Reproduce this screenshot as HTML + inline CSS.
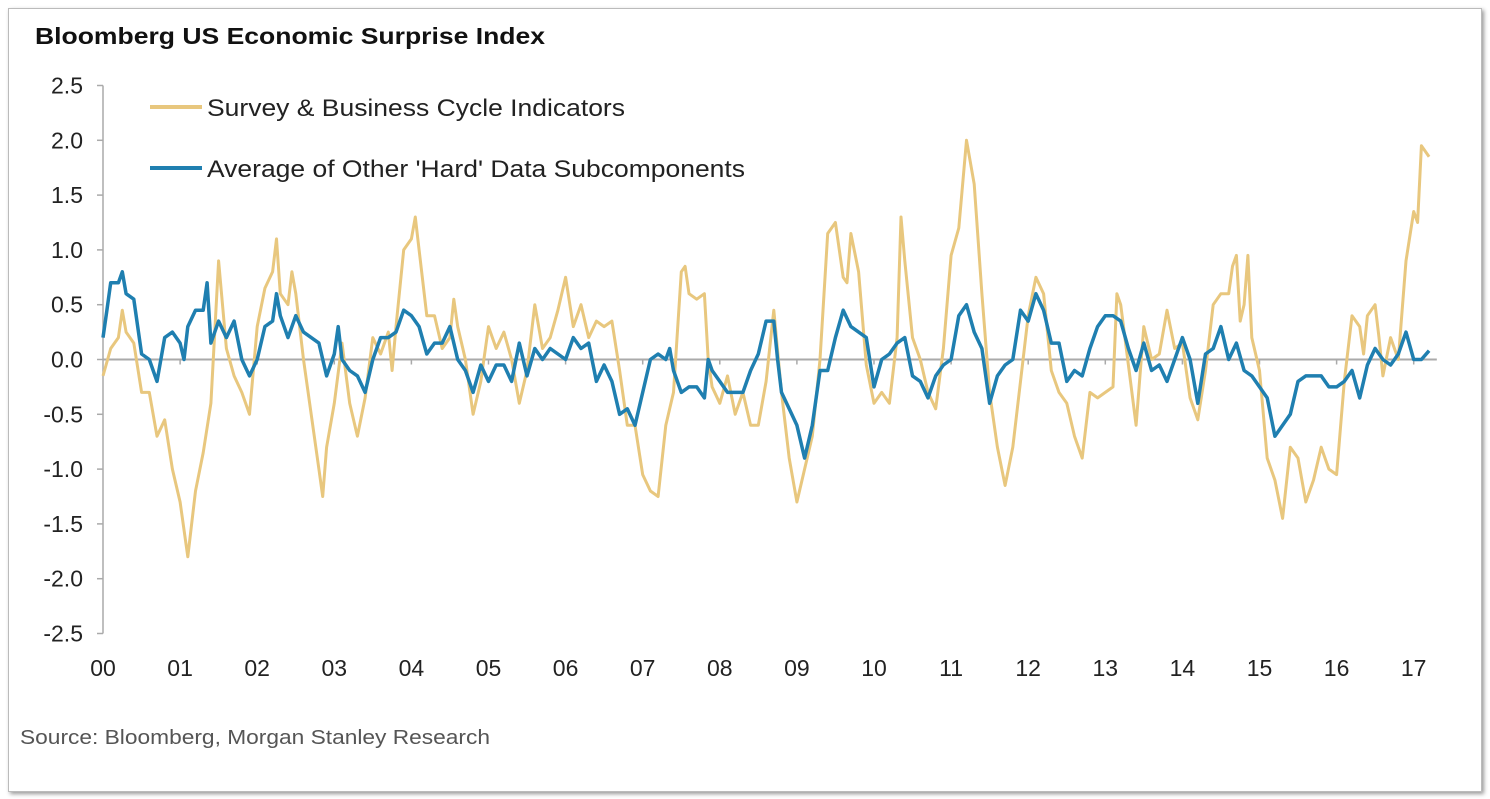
<!DOCTYPE html>
<html><head><meta charset="utf-8"><style>
body{margin:0;background:#fff;width:1490px;height:799px;overflow:hidden;font-family:"Liberation Sans",sans-serif}
#frame{position:absolute;left:8px;top:8px;width:1472px;height:782px;border:1px solid #bbb;box-shadow:2px 2px 4px #999;background:#fff}
</style></head><body>
<div id="frame"></div>
<svg id="chart" width="1490" height="799" style="position:absolute;left:0;top:0">
<text x="35" y="44" font-size="23" font-weight="bold" fill="#111" textLength="510" lengthAdjust="spacingAndGlyphs">Bloomberg US Economic Surprise Index</text>
<text x="20" y="744" font-size="20" fill="#555" textLength="470" lengthAdjust="spacingAndGlyphs">Source: Bloomberg, Morgan Stanley Research</text>
<g id="axes"></g><g id="series"></g>
<g>
<line x1="150" y1="107" x2="202" y2="107" stroke="#e8c77e" stroke-width="4"/>
<text x="207" y="116" font-size="24" fill="#222" textLength="418" lengthAdjust="spacingAndGlyphs">Survey &amp; Business Cycle Indicators</text>
<line x1="150" y1="168" x2="202" y2="168" stroke="#1f7fb0" stroke-width="4"/>
<text x="207" y="177" font-size="24" fill="#222" textLength="538" lengthAdjust="spacingAndGlyphs">Average of Other 'Hard' Data Subcomponents</text>
</g>
</svg>
<script>
const yTicks=[2.5,2.0,1.5,1.0,0.5,0.0,-0.5,-1.0,-1.5,-2.0,-2.5];
const xTickLabels=["00","01","02","03","04","05","06","07","08","09","10","11","12","13","14","15","16","17"];
const surveyT=[0,0.1,0.2,0.25,0.3,0.4,0.5,0.6,0.7,0.8,0.9,1.0,1.1,1.2,1.3,1.4,1.5,1.6,1.7,1.8,1.9,2.0,2.1,2.2,2.25,2.3,2.4,2.45,2.5,2.6,2.7,2.8,2.85,2.9,3.0,3.1,3.2,3.3,3.4,3.5,3.6,3.7,3.75,3.8,3.9,4.0,4.05,4.1,4.2,4.3,4.4,4.5,4.55,4.6,4.7,4.8,4.9,5.0,5.1,5.2,5.3,5.4,5.5,5.6,5.7,5.8,5.9,6.0,6.1,6.2,6.3,6.4,6.5,6.6,6.7,6.8,6.9,7.0,7.1,7.2,7.3,7.4,7.5,7.55,7.6,7.7,7.8,7.85,7.9,8.0,8.1,8.2,8.3,8.4,8.5,8.6,8.7,8.8,8.9,9.0,9.1,9.2,9.3,9.4,9.5,9.6,9.65,9.7,9.8,9.9,10.0,10.1,10.2,10.3,10.35,10.4,10.5,10.6,10.7,10.8,10.9,11.0,11.1,11.2,11.3,11.4,11.5,11.6,11.7,11.8,11.9,12.0,12.1,12.2,12.3,12.4,12.5,12.6,12.7,12.8,12.9,13.0,13.1,13.15,13.2,13.3,13.4,13.5,13.6,13.7,13.8,13.9,14.0,14.1,14.2,14.3,14.4,14.5,14.6,14.65,14.7,14.75,14.8,14.85,14.9,15.0,15.1,15.2,15.3,15.4,15.5,15.6,15.7,15.8,15.9,16.0,16.1,16.2,16.3,16.35,16.4,16.5,16.55,16.6,16.7,16.8,16.9,17.0,17.05,17.1,17.2];
const surveyV=[-0.15,0.1,0.2,0.45,0.25,0.15,-0.3,-0.3,-0.7,-0.55,-1.0,-1.3,-1.8,-1.2,-0.85,-0.4,0.9,0.1,-0.15,-0.3,-0.5,0.3,0.65,0.8,1.1,0.6,0.5,0.8,0.6,0.0,-0.5,-1.0,-1.25,-0.8,-0.4,0.15,-0.4,-0.7,-0.35,0.2,0.05,0.25,-0.1,0.3,1.0,1.1,1.3,1.0,0.4,0.4,0.1,0.2,0.55,0.3,0.0,-0.5,-0.2,0.3,0.1,0.25,0.0,-0.4,-0.1,0.5,0.1,0.2,0.45,0.75,0.3,0.5,0.2,0.35,0.3,0.35,-0.1,-0.6,-0.6,-1.05,-1.2,-1.25,-0.6,-0.3,0.8,0.85,0.6,0.55,0.6,0.0,-0.25,-0.4,-0.15,-0.5,-0.3,-0.6,-0.6,-0.2,0.45,-0.3,-0.9,-1.3,-1.0,-0.7,0.0,1.15,1.25,0.75,0.7,1.15,0.8,-0.05,-0.4,-0.3,-0.4,0.2,1.3,0.9,0.2,0.0,-0.3,-0.45,0.1,0.95,1.2,2.0,1.6,0.6,-0.3,-0.8,-1.15,-0.8,-0.2,0.4,0.75,0.6,-0.1,-0.3,-0.4,-0.7,-0.9,-0.3,-0.35,-0.3,-0.25,0.6,0.5,-0.05,-0.6,0.3,0.0,0.05,0.45,0.1,0.15,-0.35,-0.55,-0.1,0.5,0.6,0.6,0.85,0.95,0.35,0.5,0.95,0.2,-0.1,-0.9,-1.1,-1.45,-0.8,-0.9,-1.3,-1.1,-0.8,-1.0,-1.05,-0.2,0.4,0.3,0.05,0.4,0.5,0.2,-0.15,0.2,0.0,0.9,1.35,1.25,1.95,1.85];
const hardT=[0,0.05,0.1,0.2,0.25,0.3,0.4,0.45,0.5,0.6,0.7,0.8,0.9,1.0,1.05,1.1,1.2,1.3,1.35,1.4,1.5,1.6,1.7,1.8,1.9,2.0,2.1,2.2,2.25,2.3,2.4,2.5,2.6,2.7,2.8,2.9,3.0,3.05,3.1,3.2,3.3,3.4,3.5,3.6,3.7,3.8,3.9,4.0,4.1,4.2,4.3,4.4,4.5,4.6,4.7,4.8,4.9,5.0,5.1,5.2,5.3,5.4,5.5,5.6,5.7,5.8,5.9,6.0,6.1,6.2,6.3,6.4,6.5,6.6,6.7,6.8,6.9,7.0,7.1,7.2,7.3,7.35,7.4,7.5,7.6,7.7,7.8,7.85,7.9,8.0,8.1,8.2,8.3,8.4,8.5,8.6,8.7,8.75,8.8,8.9,9.0,9.1,9.2,9.3,9.4,9.5,9.6,9.7,9.8,9.9,10.0,10.1,10.2,10.3,10.4,10.5,10.6,10.7,10.8,10.9,11.0,11.1,11.2,11.3,11.4,11.5,11.6,11.7,11.8,11.9,12.0,12.1,12.2,12.3,12.4,12.5,12.6,12.7,12.8,12.9,13.0,13.1,13.2,13.3,13.4,13.5,13.6,13.7,13.8,13.9,14.0,14.1,14.2,14.3,14.4,14.5,14.6,14.7,14.8,14.9,15.0,15.1,15.2,15.3,15.4,15.5,15.6,15.7,15.8,15.9,16.0,16.1,16.2,16.3,16.4,16.5,16.6,16.7,16.8,16.9,17.0,17.1,17.2];
const hardV=[0.2,0.45,0.7,0.7,0.8,0.6,0.55,0.3,0.05,0.0,-0.2,0.2,0.25,0.15,0.0,0.3,0.45,0.45,0.7,0.15,0.35,0.2,0.35,0.0,-0.15,0.0,0.3,0.35,0.6,0.4,0.2,0.4,0.25,0.2,0.15,-0.15,0.05,0.3,0.0,-0.1,-0.15,-0.3,0.0,0.2,0.2,0.25,0.45,0.4,0.3,0.05,0.15,0.15,0.3,0.0,-0.1,-0.3,-0.05,-0.2,-0.05,-0.05,-0.2,0.15,-0.15,0.1,0.0,0.1,0.05,0.0,0.2,0.1,0.15,-0.2,-0.05,-0.2,-0.5,-0.45,-0.6,-0.3,0.0,0.05,0.0,0.1,-0.1,-0.3,-0.25,-0.25,-0.35,0.0,-0.1,-0.2,-0.3,-0.3,-0.3,-0.1,0.05,0.35,0.35,0.0,-0.3,-0.45,-0.6,-0.9,-0.6,-0.1,-0.1,0.2,0.45,0.3,0.25,0.2,-0.25,0.0,0.05,0.15,0.2,-0.15,-0.2,-0.35,-0.15,-0.05,0.0,0.4,0.5,0.25,0.1,-0.4,-0.15,-0.05,0.0,0.45,0.35,0.6,0.45,0.15,0.15,-0.2,-0.1,-0.15,0.1,0.3,0.4,0.4,0.35,0.1,-0.1,0.15,-0.1,-0.05,-0.2,0.0,0.2,0.0,-0.4,0.05,0.1,0.3,0.0,0.15,-0.1,-0.15,-0.25,-0.35,-0.7,-0.6,-0.5,-0.2,-0.15,-0.15,-0.15,-0.25,-0.25,-0.2,-0.1,-0.35,-0.05,0.1,0.0,-0.05,0.05,0.25,0.0,0.0,0.08];
const NS="http://www.w3.org/2000/svg";
const X0=103,YR=77.1,Y0=359.5,YU=109.6;
function xs(t){return X0+t*YR;}
function ys(v){return Y0-v*YU;}
function mk(tag,attrs,parent){const e=document.createElementNS(NS,tag);for(const k in attrs)e.setAttribute(k,attrs[k]);parent.appendChild(e);return e;}
const axes=document.getElementById('axes');
const ya=mk('line',{x1:X0,y1:ys(2.5),x2:X0,y2:ys(-2.5),stroke:'#aaa','stroke-width':1.5},axes);


yTicks.forEach(v=>{
  const t=mk('line',{x1:X0-6,y1:ys(v),x2:X0,y2:ys(v),stroke:'#aaa','stroke-width':1.5},axes);
  
  
  const l=mk('text',{x:83,y:ys(v)+8,'font-size':23,fill:'#222','text-anchor':'end'},axes);
  l.textContent=v.toFixed(1);
  
  
});
const zl=mk('line',{x1:X0,y1:ys(0),x2:xs(17.3),y2:ys(0),stroke:'#aaa','stroke-width':2},axes);


xTickLabels.forEach((s,i)=>{
  if(i>0){const tk=mk('line',{x1:xs(i),y1:ys(0),x2:xs(i),y2:ys(0)+5,stroke:'#aaa','stroke-width':1.5},axes);
  
  }
  const l=mk('text',{x:xs(i),y:676,'font-size':23,fill:'#222','text-anchor':'middle'},axes);
  l.textContent=s;
  
  
});
const ser=document.getElementById('series');
function pathD(T,V){return T.map((t,i)=>(i?'L':'M')+xs(t).toFixed(1)+' '+ys(V[i]).toFixed(1)).join(' ');}
const p1=mk('path',{d:pathD(surveyT,surveyV),fill:'none',stroke:'#e8c77e','stroke-width':3,'stroke-linejoin':'round'},ser);


const p2=mk('path',{d:pathD(hardT,hardV),fill:'none',stroke:'#1f7fb0','stroke-width':3.5,'stroke-linejoin':'round'},ser);


</script>
</body></html>
